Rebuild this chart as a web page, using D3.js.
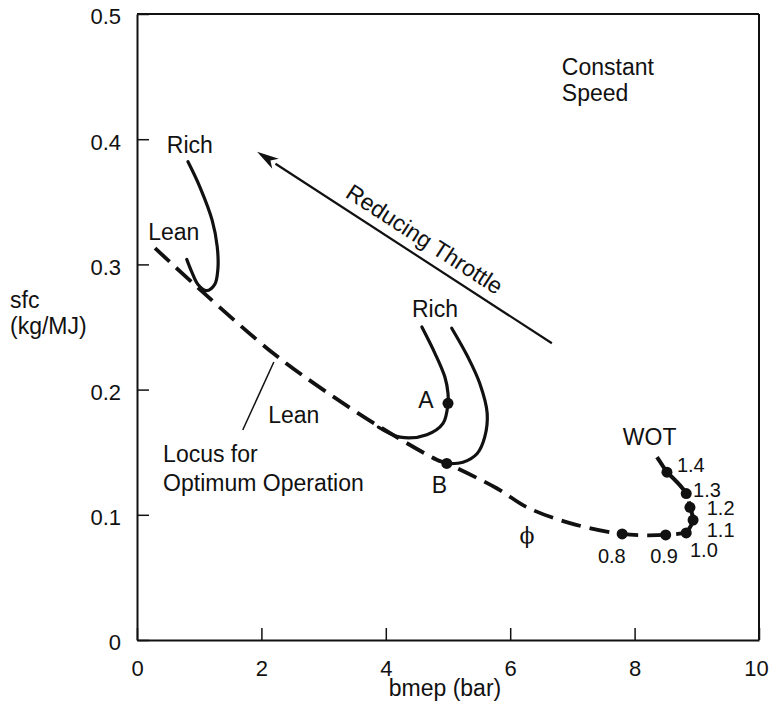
<!DOCTYPE html>
<html><head><meta charset="utf-8">
<script src="https://cdn.jsdelivr.net/npm/d3@7"></script>
<style>
html,body{margin:0;padding:0;background:#fff;}
svg text{font-family:"Liberation Sans",Arial,Helvetica,sans-serif;fill:#111;}
</style></head>
<body><svg id="chart" width="769" height="709"></svg>
<script>
// ---- data (bmep in bar, sfc in kg/MJ) ----
const xTicks = [0, 2, 4, 6, 8, 10];
const yTicks = [0, 0.1, 0.2, 0.3, 0.4, 0.5];

// locus for optimum operation (dashed)
const locusBmep = [0.29, 1.01, 2.19, 2.99, 3.91, 4.82, 4.98, 5.79, 6.27, 6.96, 7.80, 8.50, 8.83];
const locusSfc  = [0.313, 0.280, 0.229, 0.200, 0.170, 0.144, 0.141, 0.121, 0.106, 0.0934, 0.0847, 0.0839, 0.0855];

// WOT curve with equivalence ratio points
const wotPhi  = ["0.8", "0.9", "1.0", "1.1", "1.2", "1.3", "1.4"];
const wotBmep = [7.80, 8.50, 8.83, 8.94, 8.89, 8.83, 8.52];
const wotSfc  = [0.0847, 0.0839, 0.0855, 0.0958, 0.106, 0.117, 0.134];
const wotTailBmep = [8.52, 8.36];
const wotTailSfc  = [0.134, 0.146];

// part-throttle loops (rich -> lean)
const loop1Bmep = [0.82, 1.01, 1.21, 1.29, 1.30, 1.25, 1.12, 0.98, 0.88, 0.80];
const loop1Sfc  = [0.382, 0.362, 0.335, 0.314, 0.296, 0.284, 0.279, 0.284, 0.294, 0.304];
const loopABmep = [4.58, 4.79, 4.95, 5.00, 5.00, 4.92, 4.66, 4.23, 3.88];
const loopASfc  = [0.250, 0.229, 0.210, 0.197, 0.189, 0.173, 0.164, 0.162, 0.170];
const loopBBmep = [5.06, 5.32, 5.51, 5.63, 5.59, 5.47, 5.24, 4.98];
const loopBSfc  = [0.249, 0.226, 0.205, 0.181, 0.162, 0.149, 0.142, 0.141];

// marked points A and B
const markNames = ["A", "B"];
const markBmep  = [5.00, 4.98];
const markSfc   = [0.189, 0.141];

// "Reducing Throttle" arrow (from -> to)
const arrowBmep = [6.67, 1.93];
const arrowSfc  = [0.237, 0.390];

// pointer for the locus label
const pointerBmep = [1.70, 2.20];
const pointerSfc  = [0.1677, 0.222];

// text annotations (anchored at left baseline, data coords)
const labelText = ["Rich", "Lean", "Rich", "A", "B", "Lean", "Locus for", "Optimum Operation", "WOT", "Constant", "Speed"];
const labelBmep = [0.48, 0.18, 4.42, 4.52, 4.74, 2.11, 0.42, 0.42, 7.81, 6.83, 6.83];
const labelSfc  = [0.389, 0.3195, 0.258, 0.1853, 0.1174, 0.1733, 0.1422, 0.1190, 0.1558, 0.451, 0.4305];

// phi labels positions (left baseline)
const phiLabelBmep = [7.41, 8.25, 8.89, 9.16, 9.16, 8.94, 8.68];
const phiLabelSfc  = [0.0615, 0.0615, 0.0663, 0.0823, 0.0998, 0.1142, 0.134];

// ---- drawing ----
const W = 769, H = 709;
const m = {left: 137, right: 10, top: 14, bottom: 69};
const svg = d3.select("#chart");
const x = d3.scaleLinear().domain([0, 10]).range([m.left, W - m.right]);
const y = d3.scaleLinear().domain([0, 0.5]).range([H - m.bottom, m.top]);

const ink = "#111";

// frame top/right
svg.append("line").attr("x1", x(0)).attr("x2", x(10)).attr("y1", y(0.5)).attr("y2", y(0.5))
  .attr("stroke", ink).attr("stroke-width", 2);
svg.append("line").attr("x1", x(10)).attr("x2", x(10)).attr("y1", y(0.5)).attr("y2", y(0))
  .attr("stroke", ink).attr("stroke-width", 2);

const xAxis = svg.append("g").attr("transform", `translate(0,${y(0)})`)
  .call(d3.axisBottom(x).tickValues(xTicks).tickSizeInner(-12).tickSizeOuter(0).tickPadding(20)
    .tickFormat(d3.format("d")));
const yAxis = svg.append("g").attr("transform", `translate(${x(0)},0)`)
  .call(d3.axisLeft(y).tickValues(yTicks).tickSizeInner(-12).tickSizeOuter(0).tickPadding(16)
    .tickFormat(d => d === 0 ? "0" : d3.format(".1f")(d)));
[xAxis, yAxis].forEach(g => {
  g.select(".domain").attr("stroke", ink).attr("stroke-width", 2);
  g.selectAll(".tick line").attr("stroke", ink).attr("stroke-width", 1.5);
  g.selectAll(".tick text").style("font-family", '"Liberation Sans",Arial,sans-serif')
    .style("font-size", "22px").attr("fill", ink);
});
yAxis.selectAll(".tick text").attr("dy", "0.45em");
xAxis.selectAll(".tick text").filter(d => d === 10).attr("dx", "-3");

// axis titles
svg.append("text").attr("x", x(5) - 3).attr("y", 696).attr("text-anchor", "middle")
  .style("font-size", "23px").text("bmep (bar)");
svg.append("text").attr("x", 10).attr("y", 308).style("font-size", "23px").text("sfc");
svg.append("text").attr("x", 10).attr("y", 334).style("font-size", "23px").text("(kg/MJ)");

const zip = (a, b) => a.map((v, i) => [v, b[i]]);
const line = d3.line().x(d => x(d[0])).y(d => y(d[1])).curve(d3.curveCatmullRom.alpha(0.5));

// locus (dashed)
svg.append("path").attr("d", line(zip(locusBmep, locusSfc)))
  .attr("fill", "none").attr("stroke", ink).attr("stroke-width", 3.8)
  .attr("stroke-dasharray", "20,9");
// WOT
svg.append("path").attr("d", line(zip(wotBmep.slice(2), wotSfc.slice(2))))
  .attr("fill", "none").attr("stroke", ink).attr("stroke-width", 4)
  .attr("stroke-dasharray", "34,6");
svg.append("path").attr("d", line(zip(wotTailBmep, wotTailSfc)))
  .attr("fill", "none").attr("stroke", ink).attr("stroke-width", 4);

// loops
[[loop1Bmep, loop1Sfc], [loopABmep, loopASfc], [loopBBmep, loopBSfc]].forEach(([a, b]) => {
  svg.append("path").attr("d", line(zip(a, b)))
    .attr("fill", "none").attr("stroke", ink).attr("stroke-width", 3.2).attr("stroke-linecap", "round");
});

// dots
svg.selectAll("circle.wot").data(zip(wotBmep, wotSfc)).join("circle").attr("class", "wot")
  .attr("cx", d => x(d[0])).attr("cy", d => y(d[1])).attr("r", 5.5).attr("fill", ink);
svg.selectAll("circle.mark").data(zip(markBmep, markSfc)).join("circle").attr("class", "mark")
  .attr("cx", d => x(d[0])).attr("cy", d => y(d[1])).attr("r", 5.5).attr("fill", ink);

// arrow
const ax0 = x(arrowBmep[0]), ay0 = y(arrowSfc[0]), ax1 = x(arrowBmep[1]), ay1 = y(arrowSfc[1]);
const ang = Math.atan2(ay1 - ay0, ax1 - ax0);
const headL = 22, headW = 6;
const bx = ax1 - headL * Math.cos(ang), by = ay1 - headL * Math.sin(ang);
svg.append("line").attr("x1", ax0).attr("y1", ay0).attr("x2", bx).attr("y2", by)
  .attr("stroke", ink).attr("stroke-width", 2.2);
svg.append("path").attr("d", `M${ax1},${ay1} L${bx - headW * Math.sin(ang)},${by + headW * Math.cos(ang)} L${bx + 6 * Math.cos(ang)},${by + 6 * Math.sin(ang)} L${bx + headW * Math.sin(ang)},${by - headW * Math.cos(ang)} Z`)
  .attr("fill", ink);
// arrow text
const deg = Math.atan2(ay0 - ay1, ax0 - ax1) * 180 / Math.PI;
const tx = ax1 + 0.535 * (ax0 - ax1), ty = ay1 + 0.535 * (ay0 - ay1);
svg.append("text").attr("transform", `translate(${tx},${ty}) rotate(${deg}) translate(0,-10)`)
  .attr("text-anchor", "middle").style("font-size", "23px").text("Reducing Throttle");

// pointer
svg.append("line").attr("x1", x(pointerBmep[0])).attr("y1", y(pointerSfc[0]))
  .attr("x2", x(pointerBmep[1])).attr("y2", y(pointerSfc[1]))
  .attr("stroke", ink).attr("stroke-width", 1.5);

// labels
labelText.forEach((t, i) => {
  svg.append("text").attr("x", x(labelBmep[i])).attr("y", y(labelSfc[i]))
    .style("font-size", "23px").text(t);
});
wotPhi.forEach((t, i) => {
  svg.append("text").attr("x", x(phiLabelBmep[i])).attr("y", y(phiLabelSfc[i]))
    .style("font-size", "20px").text(t);
});
// phi symbol
svg.append("text").attr("x", x(6.27)).attr("y", y(0.0775)).attr("text-anchor", "middle")
  .style("font-family", '"DejaVu Serif",serif').style("font-size", "22px").text("ϕ");
</script></body></html>
